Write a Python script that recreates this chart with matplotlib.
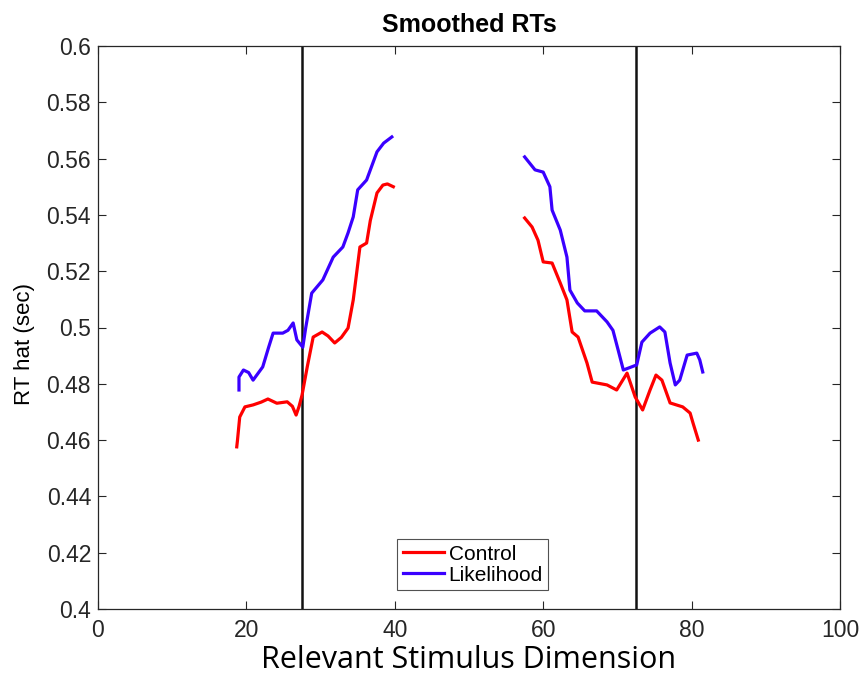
import matplotlib
matplotlib.use("Agg")
import matplotlib.pyplot as plt

# Control (red) - left segment
ctrl_left_x = [18.7, 18.8, 19.1, 19.8, 20.9, 22.0, 22.9, 24.1, 25.5, 26.2, 26.7, 27.1, 27.5, 28.2, 29.0, 30.2,
               31.0, 31.9, 32.8, 33.7, 34.4, 35.3, 36.2, 36.7, 37.6, 38.4, 39.0, 39.8]
ctrl_left_y = [0.4576, 0.4600, 0.4682, 0.4718, 0.4725, 0.4735, 0.4746, 0.4731, 0.4736, 0.4720, 0.4689, 0.4720,
               0.4760, 0.4860, 0.4966, 0.4984, 0.4970, 0.4945, 0.4965, 0.4998, 0.5098, 0.5286, 0.5300, 0.5380,
               0.5478, 0.5506, 0.5510, 0.5500]
# Control (red) - right segment
ctrl_right_x = [57.5, 58.5, 59.3, 60.0, 61.2, 62.3, 63.2, 63.9, 64.7, 65.9, 66.6, 68.6, 69.9, 71.3, 72.4,
                73.4, 74.4, 75.2, 76.0, 77.1, 78.8, 79.8, 80.2, 80.9]
ctrl_right_y = [0.5389, 0.5357, 0.5310, 0.5233, 0.5229, 0.5158, 0.5098, 0.4984, 0.4966, 0.4874, 0.4806,
                0.4796, 0.4778, 0.4838, 0.4753, 0.4707, 0.4778, 0.4831, 0.4813, 0.4732, 0.4718, 0.4696,
                0.4660, 0.4600]

# Likelihood (blue) - left segment
lik_left_x = [19.0, 19.0, 19.6, 20.3, 20.9, 22.2, 23.0, 23.6, 24.9, 25.6, 26.3, 26.8, 27.6, 28.0, 28.8,
              30.3, 31.7, 33.0, 33.7, 34.4, 35.0, 36.2, 37.6, 38.5, 39.6]
lik_left_y = [0.4778, 0.4824, 0.4849, 0.4840, 0.4813, 0.4860, 0.4930, 0.4980, 0.4980, 0.4990, 0.5016,
              0.4956, 0.4930, 0.5000, 0.5122, 0.5169, 0.5250, 0.5286, 0.5336, 0.5393, 0.5489, 0.5524,
              0.5624, 0.5655, 0.5677]
# Likelihood (blue) - right segment
lik_right_x = [57.5, 58.9, 60.0, 60.9, 61.2, 62.3, 63.2, 63.6, 64.6, 65.6, 67.2, 68.6, 69.4, 70.1, 70.8,
               72.6, 73.3, 74.4, 75.7, 76.4, 77.1, 77.8, 78.4, 79.4, 80.7, 81.1, 81.5]
lik_right_y = [0.5606, 0.5560, 0.5552, 0.5500, 0.5417, 0.5346, 0.5250, 0.5133, 0.5087, 0.5059, 0.5059,
               0.5020, 0.4990, 0.4920, 0.4849, 0.4867, 0.4948, 0.4980, 0.5002, 0.4984, 0.4874, 0.4796,
               0.4813, 0.4902, 0.4909, 0.4885, 0.4842]

boundaries = [27.5, 72.5]
x_ticks = [0, 20, 40, 60, 80, 100]
y_ticks = [0.4, 0.42, 0.44, 0.46, 0.48, 0.5, 0.52, 0.54, 0.56, 0.58, 0.6]
y_tick_labels = ["0.4", "0.42", "0.44", "0.46", "0.48", "0.5", "0.52", "0.54", "0.56", "0.58", "0.6"]

plt.rcParams['font.family'] = ['Liberation Sans', 'DejaVu Sans']

fig = plt.figure(figsize=(8.65, 6.75), dpi=100)
ax = fig.add_axes([98 / 865, 1 - 609 / 675, (840 - 98) / 865, (609 - 46) / 675])

red = '#ff0000'
blue = '#3a00ff'
lw = 2.3
ax.plot(ctrl_left_x, ctrl_left_y, color=red, lw=lw, label='Control')
ax.plot(ctrl_right_x, ctrl_right_y, color=red, lw=lw)
ax.plot(lik_left_x, lik_left_y, color=blue, lw=lw, label='Likelihood')
ax.plot(lik_right_x, lik_right_y, color=blue, lw=lw)

for b in boundaries:
    ax.axvline(b, color='#111111', lw=1.8, zorder=1)

ax.set_xlim(0, 100)
ax.set_ylim(0.4, 0.6)
ax.set_xticks(x_ticks)
ax.set_yticks(y_ticks)
ax.set_yticklabels(y_tick_labels)
ax.tick_params(direction='in', top=True, right=True, length=6, width=0.8,
               labelsize=16.5, colors='#262626', labelcolor='#262626')
ax.tick_params(axis='x', pad=7)
ax.tick_params(axis='y', pad=5)
for s in ax.spines.values():
    s.set_color('#262626')
    s.set_linewidth(0.9)

ax.set_title('Smoothed RTs', fontsize=18, fontweight='bold', pad=10)
ax.set_xlabel('Relevant Stimulus Dimension', fontsize=22, family=['Open Sans', 'DejaVu Sans'],
              labelpad=2)
ax.set_ylabel('RT hat (sec)', fontsize=16)
ax.yaxis.set_label_coords(-0.085, 0.47)

leg = ax.legend(loc='lower center', bbox_to_anchor=(0.505, 0.034), fontsize=15, frameon=True,
                fancybox=False, edgecolor='#262626', handlelength=2.0, handletextpad=0.2,
                borderpad=0.25, labelspacing=0.1, borderaxespad=0.0)
leg.get_frame().set_linewidth(0.8)

fig.savefig('out.png', dpi=100)
